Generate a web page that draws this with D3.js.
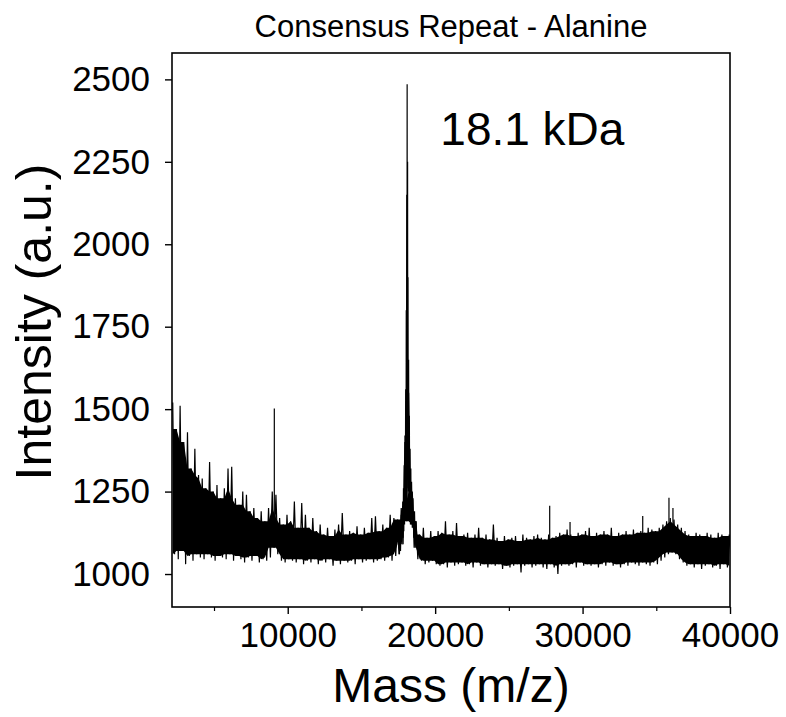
<!DOCTYPE html>
<html lang="en">

<head>
  <meta charset="UTF-8">
  <title>Consensus Repeat - Alanine</title>
  <script src="https://d3js.org/d3.v7.min.js"></script>
</head>

<body>

</body>
<style>
  body {
    margin: 0;
    padding: 0;
    background: #fff;
  }

  text {
    font-family: "Liberation Sans", Arial, sans-serif;
    fill: #000;
  }
</style>
<script>
  const width = 786
  const height = 717

  // noise band, one hi/lo pair per 250 Da bin, bins start at 2200 Da
  const binStart = 2200
  const binWidth = 250
  const bandHi = [
    1520, 1440, 1510, 1400, 1430, 1320, 1380, 1300, 1290, 1260, 1340, 1250,
    1270, 1230, 1260, 1320, 1325, 1230, 1210, 1250, 1240, 1190, 1200, 1170,
    1190, 1160, 1200, 1250, 1240, 1170, 1150, 1180, 1160, 1220, 1140, 1215,
    1180, 1140, 1170, 1130, 1150, 1120, 1140, 1115, 1135, 1150, 1185, 1120,
    1130, 1125, 1145, 1120, 1140, 1125, 1170, 1175, 1130, 1150, 1140, 1180,
    1170, 1165, 1200, 1400, 1550, 1250, 1160, 1120, 1140, 1110, 1130, 1115,
    1130, 1125, 1160, 1120, 1130, 1155, 1115, 1120, 1125, 1110, 1120, 1140,
    1110, 1120, 1105, 1150, 1110, 1100, 1115, 1105, 1110, 1115, 1100, 1120,
    1110, 1105, 1115, 1120, 1110, 1105, 1120, 1110, 1115, 1125, 1120, 1135,
    1120, 1115, 1125, 1120, 1130, 1140, 1115, 1125, 1120, 1130, 1120, 1140,
    1115, 1125, 1120, 1130, 1120, 1135, 1125, 1130, 1125, 1140, 1135, 1130,
    1140, 1150, 1160, 1170, 1165, 1150, 1140, 1130, 1120, 1115, 1125, 1120,
    1115, 1125, 1120, 1110, 1125, 1120, 1115, 1120
  ]
  const bandLo = [
    1060, 1045, 1070, 1030, 1055, 1040, 1060, 1050, 1045, 1060, 1050, 1040,
    1055, 1050, 1045, 1060, 1040, 1055, 1045, 1035, 1050, 1040, 1055, 1035,
    1045, 1040, 1050, 1080, 1060, 1040, 1035, 1045, 1040, 1035, 1045, 1030,
    1040, 1035, 1045, 1030, 1040, 1035, 1045, 1025, 1040, 1030, 1040, 1035,
    1040, 1030, 1045, 1035, 1040, 1045, 1035, 1040, 1045, 1040, 1050, 1040,
    1055, 1060, 1090, 1160, 1150, 1080, 1045, 1040, 1030, 1035, 1040, 1030,
    1025, 1030, 1020, 1035, 1025, 1030, 1035, 1025, 1030, 1020, 1035, 1025,
    1030, 1020, 1030, 1025, 1030, 1015, 1025, 1020, 1025, 1030, 1005, 1025,
    1030, 1020, 1025, 1030, 1020, 1015, 1030, 1020, 1000, 1025, 1030, 1025,
    1030, 1020, 1035, 1025, 1030, 1025, 1030, 1020, 1030, 1025, 1035, 1025,
    1030, 1020, 1030, 1025, 1035, 1030, 1025, 1035, 1030, 1025, 1035, 1030,
    1040, 1050, 1060, 1065, 1060, 1045, 1035, 1025, 1030, 1020, 1030, 1015,
    1025, 1030, 1020, 1025, 1015, 1030, 1020, 1025
  ]

  // main peak at 18.1 kDa
  const peakMz = [17500, 17600, 17700, 17800, 17850, 17900, 17950, 18000, 18040, 18070, 18100,
    18130, 18160, 18200, 18250, 18300, 18350, 18400, 18500, 18600, 18700]
  const peakHi = [1150, 1160, 1180, 1220, 1260, 1330, 1420, 1560, 1800, 2150, 2485,
    2250, 1900, 1650, 1480, 1380, 1320, 1280, 1230, 1190, 1160]
  const peakLo = [1060, 1070, 1090, 1110, 1130, 1150, 1170, 1190, 1220, 1260, 1380,
    1300, 1250, 1220, 1190, 1170, 1150, 1140, 1110, 1080, 1060]

  // isolated narrow spikes
  const spikeMz = [9090, 27770, 29150, 34080, 35860, 36130]
  const spikeTop = [1502, 1207, 1158, 1176, 1231, 1200]
  const spikeBase = 1090

  const xTicks = [10000, 20000, 30000, 40000]
  const xMinorTicks = [5000, 15000, 25000, 35000]
  const yTicks = [1000, 1250, 1500, 1750, 2000, 2250, 2500]

  const margin = { top: 53, right: 56, bottom: 110, left: 172 }

  const x = d3.scaleLinear()
    .domain([2150, 40000])
    .range([margin.left, width - margin.right])

  const y = d3.scaleLinear()
    .domain([900, 2580])
    .range([height - margin.bottom, margin.top])

  const svg = d3.select('body').append('svg')
    .attr('width', width)
    .attr('height', height)

  svg.append('defs').append('clipPath')
    .attr('id', 'plot')
    .append('rect')
    .attr('x', margin.left)
    .attr('y', margin.top)
    .attr('width', width - margin.right - margin.left)
    .attr('height', height - margin.bottom - margin.top)

  const line = d3.line()
    .x(d => x(d[0]))
    .y(d => y(d[1]))

  // zigzag through hi/lo so the trace reads as dense noise
  function zigzag(mzs, his, los) {
    const pts = []
    mzs.forEach((mz, i) => {
      pts.push([mz, his[i]])
      const next = i < mzs.length - 1 ? mzs[i + 1] : mz + binWidth
      pts.push([(mz + next) / 2, los[i]])
    })
    return pts
  }

  // solid core of the band: tightest neighbouring hi / lo
  function core(mzs, his, los) {
    return mzs.map((mz, i) => {
      const j = Math.max(0, i - 1), k = Math.min(mzs.length - 1, i + 1)
      return {
        mz,
        top: Math.min(his[j], his[i], his[k]),
        bot: Math.max(los[j], los[i], los[k])
      }
    }).filter(d => d.top > d.bot)
  }

  const bandMz = bandHi.map((_, i) => binStart + i * binWidth)

  const area = d3.area()
    .x(d => x(d.mz))
    .y0(d => y(d.bot))
    .y1(d => y(d.top))

  const g = svg.append('g')
    .attr('clip-path', 'url(#plot)')

  g.append('path')
    .attr('fill', '#000')
    .attr('d', area(core(bandMz, bandHi, bandLo)))

  g.append('path')
    .attr('fill', '#000')
    .attr('d', area(core(peakMz, peakHi, peakLo)))

  g.append('path')
    .attr('fill', 'none')
    .attr('stroke', '#000')
    .attr('stroke-width', 1.2)
    .attr('d', line(zigzag(bandMz, bandHi, bandLo)))

  g.append('path')
    .attr('fill', 'none')
    .attr('stroke', '#000')
    .attr('stroke-width', 1.2)
    .attr('d', line(zigzag(peakMz, peakHi, peakLo)))

  g.selectAll('line.spike')
    .data(spikeMz)
    .join('line')
    .attr('class', 'spike')
    .attr('stroke', '#000')
    .attr('stroke-width', 1.2)
    .attr('x1', d => x(d))
    .attr('x2', d => x(d))
    .attr('y1', y(spikeBase))
    .attr('y2', (d, i) => y(spikeTop[i]))

  // axes
  const xAxis = svg.append('g')
    .attr('transform', `translate(0,${height - margin.bottom})`)
    .call(d3.axisBottom(x).tickValues(xTicks).tickFormat(d3.format('d')).tickSize(7).tickPadding(8))

  svg.append('g')
    .attr('transform', `translate(0,${height - margin.bottom})`)
    .call(d3.axisBottom(x).tickValues(xMinorTicks).tickFormat('').tickSize(4))
    .call(a => a.select('.domain').remove())
    .selectAll('line').attr('stroke-width', 1.2)

  const yAxis = svg.append('g')
    .attr('transform', `translate(${margin.left},0)`)
    .call(d3.axisLeft(y).tickValues(yTicks).tickFormat(d3.format('d')).tickSize(7).tickPadding(15))

  for (const a of [xAxis, yAxis]) {
    a.select('.domain').remove()
    a.selectAll('line').attr('stroke-width', 1.4)
    a.selectAll('text')
      .style('font-size', '35px')
      .attr('fill', '#000')
  }

  // frame
  svg.append('rect')
    .attr('x', margin.left)
    .attr('y', margin.top)
    .attr('width', width - margin.right - margin.left)
    .attr('height', height - margin.bottom - margin.top)
    .attr('fill', 'none')
    .attr('stroke', '#000')
    .attr('stroke-width', 1.6)

  svg.append('text')
    .attr('x', (margin.left + width - margin.right) / 2)
    .attr('y', 37)
    .attr('text-anchor', 'middle')
    .style('font-size', '31px')
    .text('Consensus Repeat - Alanine')

  svg.append('text')
    .attr('x', (margin.left + width - margin.right) / 2)
    .attr('y', 702)
    .attr('text-anchor', 'middle')
    .style('font-size', '48px')
    .text('Mass (m/z)')

  svg.append('text')
    .attr('transform', `translate(51,322) rotate(-90)`)
    .attr('text-anchor', 'middle')
    .style('font-size', '50px')
    .text('Intensity (a.u.)')

  svg.append('text')
    .attr('x', x(20350))
    .attr('y', y(2300))
    .style('font-size', '46px')
    .text('18.1 kDa')
</script>

</html>
